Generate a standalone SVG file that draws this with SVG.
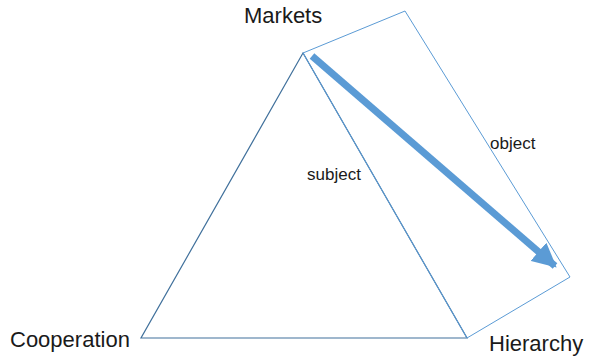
<svg xmlns="http://www.w3.org/2000/svg" width="591" height="357" viewBox="0 0 591 357">
<style>
.lbl{font-family:"Liberation Sans",Arial,sans-serif;fill:#1a1a1a}
.big{font-size:22px}
.sm{font-size:17px}
</style>
<defs>
<marker id="ah" markerUnits="userSpaceOnUse" markerWidth="24" markerHeight="24" refX="20" refY="11" orient="auto" viewBox="0 0 22 22">
<path d="M0,0 L22,11 L0,22 Z" fill="#5b9bd5"/>
</marker>
</defs>
<rect width="591" height="357" fill="#ffffff"/>
<g id="connectors">
<polygon id="triangle" points="303,53 141,338 467,338" fill="none" stroke="#41719c" stroke-width="1.2"/>
<polygon id="rectangle" points="303,53 405,11 570,277 467,338" fill="none" stroke="#5b9bd5" stroke-width="1"/>
<line id="arrow" x1="312" y1="56" x2="555" y2="266" stroke="#5b9bd5" stroke-width="7" marker-end="url(#ah)"/>
</g>
<g id="markets"><text class="lbl big" x="244" y="23">Markets</text></g>
<g id="cooperation"><text class="lbl big" x="10" y="347">Cooperation</text></g>
<g id="hierarchy"><text class="lbl big" x="489" y="351">Hierarchy</text></g>
<g id="subject"><text class="lbl sm" x="307" y="180">subject</text></g>
<g id="object"><text class="lbl sm" x="490" y="149">object</text></g>
</svg>
